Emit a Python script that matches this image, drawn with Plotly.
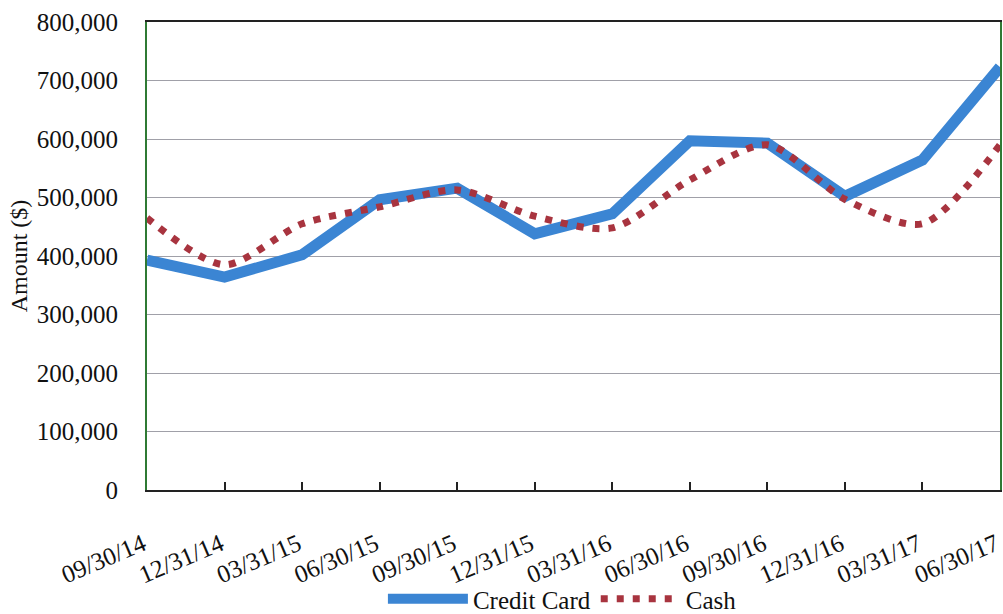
import plotly.graph_objects as go

dates = ["09/30/14", "12/31/14", "03/31/15", "06/30/15", "09/30/15", "12/31/15",
         "03/31/16", "06/30/16", "09/30/16", "12/31/16", "03/31/17", "06/30/17"]
credit_card = [393000, 364000, 402000, 496000, 516000, 438000,
               472000, 597000, 593000, 502000, 564000, 723000]
cash = [465000, 385000, 455000, 484000, 513000, 468000,
        448000, 530000, 590000, 497000, 455000, 590000]
y_ticks = [0, 100000, 200000, 300000, 400000, 500000, 600000, 700000, 800000]

FONT = "Liberation Serif, Times New Roman, serif"

fig = go.Figure()
fig.add_trace(go.Scatter(
    x=dates, y=credit_card, name="Credit Card", mode="lines",
    line=dict(color="#3b85d3", width=11),
))
fig.add_trace(go.Scatter(
    x=dates, y=cash, name="Cash", mode="lines",
    line=dict(color="#a8343f", width=7, dash="7px,9px", shape="spline", smoothing=0.8),
))

fig.update_layout(
    width=1003, height=614,
    margin=dict(l=147, r=3, t=22, b=124, autoexpand=False),
    paper_bgcolor="white", plot_bgcolor="white",
    font=dict(family=FONT, size=25, color="#111"),
    showlegend=True,
    legend=dict(orientation="h", x=0.487, xanchor="center",
                y=-0.184, yanchor="top", bgcolor="rgba(0,0,0,0)",
                font=dict(size=25), itemwidth=80, traceorder="normal"),
)
fig.update_xaxes(
    type="category", range=[0, 11], tickangle=-23, automargin=False,
    showgrid=False, showline=True, linecolor="#222", linewidth=2, mirror=True,
    ticks="inside", ticklen=8, tickcolor="#222", tickwidth=1.5,
    tickfont=dict(size=25), zeroline=False, ticklabelstandoff=28, ticklabelshift=-4,
)
fig.update_yaxes(
    range=[0, 800000], tickvals=y_ticks, tickformat=",d", automargin=False,
    showgrid=True, gridcolor="#a0a0a8", gridwidth=1,
    showline=True, linecolor="#2f7a34", linewidth=2, mirror=True,
    ticks="", tickfont=dict(size=25), zeroline=False, ticklabelstandoff=22,
    title=dict(text="Amount ($)", font=dict(size=24), standoff=2),
)

fig.write_html("out.html")
